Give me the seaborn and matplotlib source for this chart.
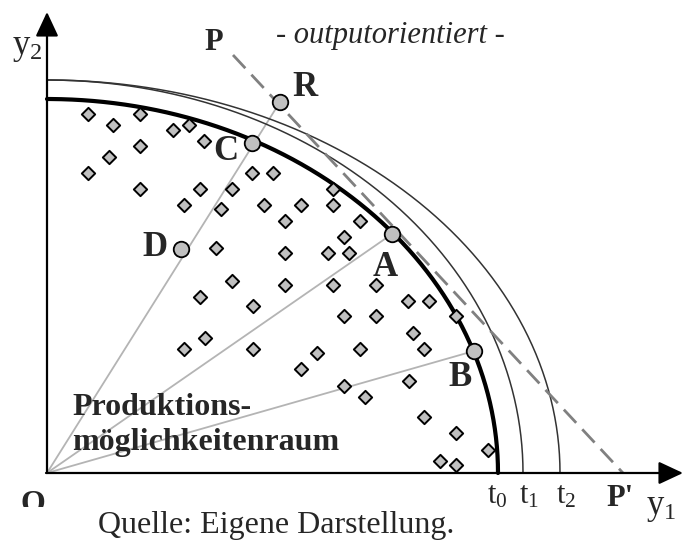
import numpy as np
import pandas as pd
import seaborn as sns
import matplotlib.pyplot as plt
from matplotlib.transforms import Bbox, TransformedBbox

sns.set_style("white")
plt.rcParams['font.family'] = ['Liberation Serif', 'DejaVu Serif']
plt.rcParams['mathtext.fontset'] = 'custom'
plt.rcParams['mathtext.rm'] = 'Liberation Serif'
plt.rcParams['mathtext.it'] = 'Liberation Serif:italic'

# production points inside the possibility set (y1, y2)
dia_y1 = [41, 66, 93, 126, 142, 157, 93, 62, 41, 93, 153, 137, 185, 174, 205, 226, 217, 169,
          185, 286, 254, 286, 238, 313, 297, 238, 281, 302, 238, 286, 329, 206, 361, 382, 297,
          329, 409, 366, 313, 377, 270, 153, 158, 137, 206, 254, 297, 318, 362, 377, 409, 441,
          393, 409]
dia_y2 = [359, 348, 359, 343, 348, 332, 327, 316, 300, 284, 284, 268, 284, 264, 300, 300, 268, 225,
          192, 284, 268, 268, 252, 252, 236, 220, 220, 220, 188, 188, 188, 167, 172, 172, 157,
          157, 157, 140, 124, 124, 120, 176, 135, 124, 124, 104, 87, 76, 92, 56, 40, 23,
          12, 8]

# named points
pt_names = ['R', 'C', 'D', 'A', 'B']
pt_y1 = [233, 205, 134, 345, 427]
pt_y2 = [371, 330, 224, 239, 122]

# transformation curves t0, t1, t2 (intercepts on y1 and y2 axis)
curve_names = ['t0', 't1', 't2']
curve_a = [451, 476, 513]
curve_b = [374, 393, 393]

# price line P - P'
price_y1 = [186, 576]
price_y2 = [418, 0]

fig = plt.figure(figsize=(6.83, 5.40), dpi=100)
ax = fig.add_axes([0, 0, 1, 1])
ax.set_xlim(-47, 636)
ax.set_ylim(-67, 473)
ax.axis('off')

# rays from origin
for name in ['R', 'A', 'B']:
    i = pt_names.index(name)
    ray = pd.DataFrame({'x': [0, pt_y1[i]], 'y': [0, pt_y2[i]]})
    sns.lineplot(data=ray, x='x', y='y', ax=ax, color='#b4b4b4', lw=1.3, sort=False, estimator=None)

# curves
th = np.linspace(0, np.pi / 2, 200)
for name, a, b in zip(curve_names, curve_a, curve_b):
    cdf = pd.DataFrame({'x': a * np.cos(th), 'y': b * np.sin(th)})
    if name == 't0':
        sns.lineplot(data=cdf, x='x', y='y', ax=ax, color='black', lw=3, sort=False, estimator=None, zorder=3)
    else:
        sns.lineplot(data=cdf, x='x', y='y', ax=ax, color='#333333', lw=1.1, sort=False, estimator=None, zorder=3)

# price line
pdf = pd.DataFrame({'x': price_y1, 'y': price_y2})
sns.lineplot(data=pdf, x='x', y='y', ax=ax, color='#808080', lw=2, sort=False, estimator=None,
             zorder=4).lines[-1].set_linestyle((0, (6.5, 3.2)))

# diamonds
sns.scatterplot(x=dia_y1, y=dia_y2, ax=ax, marker='D', s=46, color='#c0c0c0',
                edgecolor='black', linewidth=1.4, zorder=5)

# named points
sns.scatterplot(x=pt_y1, y=pt_y2, ax=ax, marker='o', s=125, color='#c0c0c0',
                edgecolor='black', linewidth=1.3, zorder=6)

# axes with arrows
arrow = dict(arrowstyle='-|>,head_length=0.75,head_width=0.35', mutation_scale=20,
             lw=1.6, color='black', shrinkA=0, shrinkB=0)
ax.annotate('', xy=(0, 461), xytext=(0, 0), arrowprops=arrow, zorder=7)
ax.annotate('', xy=(636, 0), xytext=(-1, 0), arrowprops=arrow, zorder=7)

# labels
lab_pos = {'R': (258, 386), 'C': (179, 321), 'D': (108, 225), 'A': (338, 206), 'B': (413, 95)}
for name in pt_names:
    ax.text(*lab_pos[name], name, fontsize=25, fontweight='bold', ha='center', va='center')
ax.text(167, 430, 'P', fontsize=22, fontweight='bold', ha='center', va='center')
ax.text(573, -26, "P'", fontsize=22, fontweight='bold', ha='center', va='center')

ax.text(-35, 419, r'$\mathregular{y_2}$', fontsize=25, ha='left', va='baseline')
ax.text(599, -41, r'$\mathregular{y_1}$', fontsize=25, ha='left', va='baseline')
for name, x in zip(curve_names, [450, 482, 519]):
    ax.text(x, -30, r'$\mathregular{%s_%s}$' % (name[0], name[1]), fontsize=22, ha='center', va='baseline')

o = ax.text(-14.5, -39, 'O', fontsize=23, fontweight='bold', ha='center', va='baseline')
o.set_clip_box(TransformedBbox(Bbox([[-47, -34], [53, 26]]), ax.transData))
o.set_clip_on(True)

ax.text(343, 430, '- outputorientiert -', fontsize=22, style='italic', ha='center', va='baseline')
ax.text(229, -60, 'Quelle: Eigene Darstellung.', fontsize=23, ha='center', va='baseline')
ax.text(25, 58, 'Produktions-', fontsize=23, fontweight='bold', ha='left', va='baseline')
ax.text(25, 23, 'möglichkeitenraum', fontsize=23, fontweight='bold', ha='left', va='baseline')

plt.savefig('out.png', dpi=100)
